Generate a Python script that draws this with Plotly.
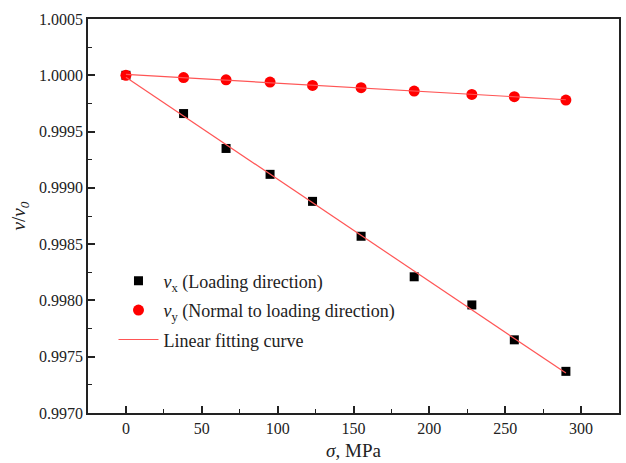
import numpy as np
import plotly.graph_objects as go

sigma = [0, 38, 66, 95, 123, 155, 190, 228, 256, 290]
vx = [1.00000, 0.99966, 0.99935, 0.99912, 0.99888, 0.99857, 0.99821, 0.99796, 0.99765, 0.99737]
vy = [1.00000, 0.99998, 0.99996, 0.99994, 0.99991, 0.99989, 0.99986, 0.99983, 0.99981, 0.99978]

x_ticks = [0, 50, 100, 150, 200, 250, 300]
y_ticks = [0.9970, 0.9975, 0.9980, 0.9985, 0.9990, 0.9995, 1.0000, 1.0005]

s = np.array(sigma, dtype=float)
px_ = np.polyfit(s, np.array(vx), 1)
py_ = np.polyfit(s, np.array(vy), 1)
xf = np.array([s.min(), s.max()])

FONT = "Liberation Serif"
TXT = "#222"
fig = go.Figure()

fig.add_trace(go.Scatter(
    x=sigma, y=vx, mode="markers", name="<i>v</i><sub>x</sub> (Loading direction)",
    marker=dict(symbol="square", size=9, color="black"),
    legendgroup="a", legendrank=1))
fig.add_trace(go.Scatter(
    x=sigma, y=vy, mode="markers", name="<i>v</i><sub>y</sub> (Normal to loading direction)",
    marker=dict(symbol="circle", size=11, color="#ff0000"),
    legendgroup="b", legendrank=2))
fig.add_trace(go.Scatter(
    x=xf, y=np.polyval(px_, xf), mode="lines", name="Linear fitting curve",
    line=dict(color="#ff5555", width=1.2), legendgroup="c", legendrank=3))
fig.add_trace(go.Scatter(
    x=xf, y=np.polyval(py_, xf), mode="lines", name="fit y",
    line=dict(color="#ff5555", width=1.2), legendgroup="c", showlegend=False))

fig.update_layout(
    width=626, height=463,
    margin=dict(l=88, r=5, t=19, b=50),
    paper_bgcolor="white", plot_bgcolor="white",
    font=dict(family=FONT, size=16, color=TXT),
    legend=dict(x=0.048, y=0.382, xanchor="left", yanchor="top",
                bgcolor="rgba(0,0,0,0)", font=dict(size=18, family=FONT, color=TXT),
                traceorder="grouped", tracegroupgap=3, itemwidth=40),
    showlegend=True,
)
fig.update_xaxes(
    range=[-25, 325], tickvals=x_ticks, ticktext=[str(t) for t in x_ticks],
    tickfont=dict(family=FONT, size=16, color=TXT),
    showgrid=False, zeroline=False,
    showline=True, linecolor="#222", linewidth=1.5, mirror=True,
    ticks="inside", ticklen=7, tickwidth=1.5, tickcolor="#222",
    minor=dict(ticks="inside", ticklen=4, tickwidth=1.2, tickcolor="#222", dtick=25),
    title=dict(text="<i>σ</i>, MPa", font=dict(size=19, family=FONT, color=TXT), standoff=8),
)
fig.update_yaxes(
    range=[0.9970, 1.0005], tickvals=y_ticks, ticktext=[f"{t:.4f}" for t in y_ticks],
    tickfont=dict(family=FONT, size=16, color=TXT),
    showgrid=False, zeroline=False,
    showline=True, linecolor="#222", linewidth=1.5, mirror=True,
    ticks="inside", ticklen=7, tickwidth=1.5, tickcolor="#222",
    minor=dict(ticks="inside", ticklen=4, tickwidth=1.2, tickcolor="#222", dtick=0.00025),
    title=dict(text="<i>v</i>/<i>v</i><sub><i>0</i></sub>", font=dict(size=19, family=FONT, color=TXT), standoff=8),
)

fig.write_html("out.html")
